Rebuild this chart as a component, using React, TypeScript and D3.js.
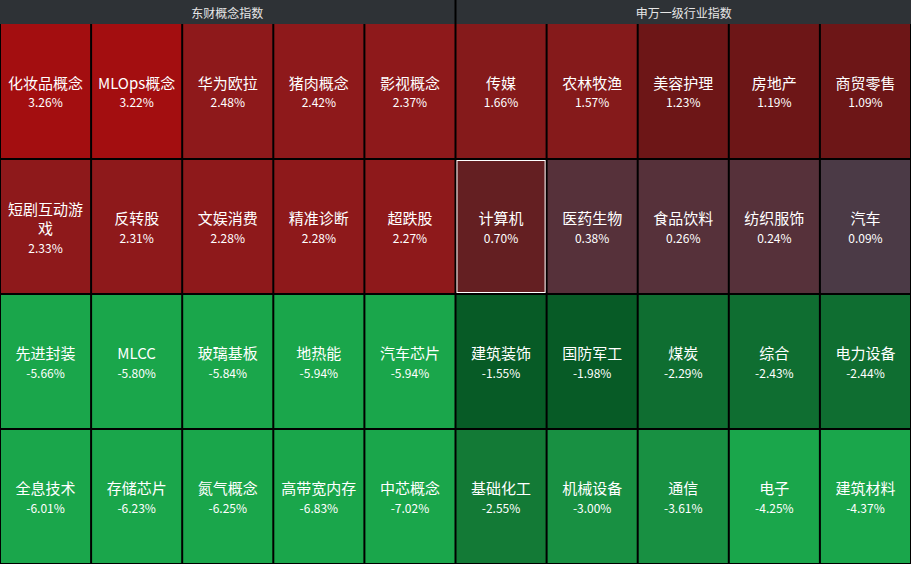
import * as d3 from 'd3'

const groupTitles = ['东财概念指数', '申万一级行业指数']

const conceptNames = [
  '化妆品概念', 'MLOps概念', '华为欧拉', '猪肉概念', '影视概念',
  '短剧互动游戏', '反转股', '文娱消费', '精准诊断', '超跌股',
  '先进封装', 'MLCC', '玻璃基板', '地热能', '汽车芯片',
  '全息技术', '存储芯片', '氮气概念', '高带宽内存', '中芯概念',
]
const conceptValues = [
  3.26, 3.22, 2.48, 2.42, 2.37,
  2.33, 2.31, 2.28, 2.28, 2.27,
  -5.66, -5.8, -5.84, -5.94, -5.94,
  -6.01, -6.23, -6.25, -6.83, -7.02,
]

const industryNames = [
  '传媒', '农林牧渔', '美容护理', '房地产', '商贸零售',
  '计算机', '医药生物', '食品饮料', '纺织服饰', '汽车',
  '建筑装饰', '国防军工', '煤炭', '综合', '电力设备',
  '基础化工', '机械设备', '通信', '电子', '建筑材料',
]
const industryValues = [
  1.66, 1.57, 1.23, 1.19, 1.09,
  0.7, 0.38, 0.26, 0.24, 0.09,
  -1.55, -1.98, -2.29, -2.43, -2.44,
  -2.55, -3.0, -3.61, -4.25, -4.37,
]

const highlighted = '计算机'

const W = 911
const H = 564
const headerH = 24
const cols = 5
const rows = 4
const font = '"Noto Sans CJK SC", "Microsoft YaHei", sans-serif'

const color = d3
  .scaleThreshold<number, string>()
  .domain([-4, -2.9, -2.5, -2, 0, 0.2, 0.5, 1, 1.5, 2, 3])
  .range([
    '#1aa64b', '#189042', '#137a36', '#0f6e31', '#075b26',
    '#4b3a46', '#56313a', '#641f22', '#6d1617', '#851a1b', '#8e191b', '#a30e10',
  ])

// rough text width so long names wrap like the original
function textWidth(s: string, size: number) {
  let w = 0
  for (const ch of s) w += ch.charCodeAt(0) > 255 ? size : size * 0.58
  return w
}

function wrap(s: string, size: number, maxW: number) {
  const lines: string[] = []
  let cur = ''
  for (const ch of s) {
    if (cur && textWidth(cur + ch, size) > maxW) {
      lines.push(cur)
      cur = ch
    } else cur += ch
  }
  if (cur) lines.push(cur)
  return lines
}

export default function App() {
  const x = d3.scaleBand<number>().domain(d3.range(cols * 2)).range([0, W])
  const y = d3.scaleBand<number>().domain(d3.range(rows)).range([headerH, H])
  const groups = [
    { names: conceptNames, values: conceptValues },
    { names: industryNames, values: industryValues },
  ]
  const lineH = 19.5

  return (
    <svg width={W} height={H} style={{ position: 'absolute', left: 0, top: 0, background: '#000' }}>
      <rect x={0} y={0} width={W} height={H} fill="#000" />
      {groupTitles.map((t, g) => {
        const x0 = x(g * cols)! + (g ? 1 : 0)
        const x1 = g ? W : x(cols)! - 1
        return (
          <g key={t}>
            <rect x={x0} y={0} width={x1 - x0} height={headerH} fill="#2e3236" />
            <text
              x={(x0 + x1) / 2}
              y={headerH / 2}
              fill="#e6e6e6"
              fontSize={12}
              fontFamily={font}
              textAnchor="middle"
              dominantBaseline="central"
            >
              {t}
            </text>
          </g>
        )
      })}
      {groups.map((grp, g) =>
        grp.names.map((name, i) => {
          const c = g * cols + (i % cols)
          const r = Math.floor(i / cols)
          const v = grp.values[i]
          const cx0 = x(c)! + 1
          const cw = x.bandwidth() - 2
          const cy0 = y(r)! + (r ? 1 : 0)
          const ch = y(r)! + y.bandwidth() - 1 - cy0
          const lines = wrap(name, 15, 82)
          const n = lines.length + 1
          const mid = cy0 + ch / 2 + 1
          const start = mid - ((n - 1) * lineH) / 2
          return (
            <g key={name}>
              <rect x={cx0} y={cy0} width={cw} height={ch} fill={color(v)} />
              {name === highlighted && (
                <rect
                  x={cx0 + 0.5}
                  y={cy0 + 0.5}
                  width={cw - 1}
                  height={ch - 1}
                  fill="none"
                  stroke="#fff"
                  strokeWidth={1}
                />
              )}
              {lines.map((l, k) => (
                <text
                  key={k}
                  x={cx0 + cw / 2}
                  y={start + k * lineH}
                  fill="#fff"
                  fontSize={15}
                  fontFamily={font}
                  textAnchor="middle"
                  dominantBaseline="central"
                >
                  {l}
                </text>
              ))}
              <text
                x={cx0 + cw / 2}
                y={start + lines.length * lineH}
                fill="#fff"
                fontSize={12}
                fontFamily={font}
                textAnchor="middle"
                dominantBaseline="central"
              >
                {v.toFixed(2) + '%'}
              </text>
            </g>
          )
        }),
      )}
    </svg>
  )
}
